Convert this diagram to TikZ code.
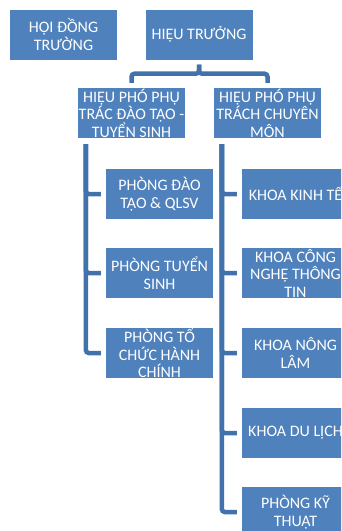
\documentclass[tikz,border=0pt]{standalone}
\usepackage{fontspec}
\setmainfont{Carlito}

\definecolor{boxblue}{HTML}{4F81BD}
\definecolor{lineblue}{HTML}{4272AC}

\begin{document}
\begin{tikzpicture}[x=1pt, y=-1pt,
    unit/.style={fill=boxblue, text=white, align=center, inner sep=0pt,
        minimum width=107pt, minimum height=50pt,
        font=\fontsize{16}{17.5}\selectfont},
    conn/.style={draw=lineblue, line width=4.5pt, rounded corners=3pt},
    branch/.style={conn, shorten <=6pt, shorten >=5pt}]

\useasboundingbox (0,0) rectangle (341,531);
\clip (0,0) rectangle (341,531);

% top level
\node[unit] (hdt) at (63.5,34.5) {HỘI ĐỒNG\\TRƯỜNG};
\node[unit] (ht) at (199,34.5) {HIỆU TRƯỞNG};

% vice principals
\node[unit] (hp1) at (131.5,113) {HIỆU PHÓ PHỤ\\TRÁC ĐÀO TẠO -\\TUYỂN SINH};
\node[unit] (hp2) at (267.5,113) {HIỆU PHÓ PHỤ\\TRÁCH CHUYÊN\\MÔN};

\draw[conn, shorten <=5pt, shorten >=5pt] (ht.south) -- ++(0,14) -| (hp1.north);
\draw[conn, shorten <=5pt, shorten >=5pt] (ht.south) -- ++(0,14) -| (hp2.north);

% left column
\node[unit] (pdt) at (159.5,194) {PHÒNG ĐÀO\\TẠO \& QLSV};
\node[unit] (pts) at (159.5,273) {PHÒNG TUYỂN\\SINH};
\node[unit] (ptc) at (159.5,353) {PHÒNG TỔ\\CHỨC HÀNH\\CHÍNH};

% right column
\node[unit] (kkt) at (295.5,194) {KHOA KINH TẾ};
\node[unit] (kcn) at (295.5,273) {KHOA CÔNG\\NGHỆ THÔNG\\TIN};
\node[unit] (knl) at (295.5,353) {KHOA NÔNG\\LÂM};
\node[unit] (kdl) at (295.5,433) {KHOA DU LỊCH};
\node[unit] (pkt) at (295.5,512) {PHÒNG KỸ\\THUẬT};

\foreach \c in {pdt,pts,ptc}
    \draw[branch] ([xshift=8pt]hp1.south west) |- (\c.west);
\foreach \c in {kkt,kcn,knl,kdl,pkt}
    \draw[branch] ([xshift=8pt]hp2.south west) |- (\c.west);

\end{tikzpicture}
\end{document}
